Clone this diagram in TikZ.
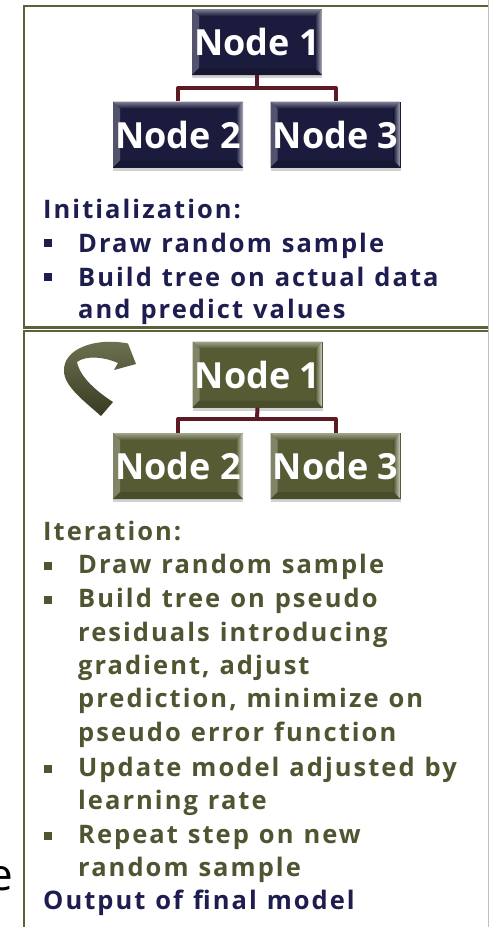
\documentclass[tikz,border=0pt]{standalone}
\usepackage{fontspec}
\setmainfont{Open Sans}
\newfontfamily\bodyfont{Open Sans}[LetterSpace=8, WordSpace=1.15]
\usetikzlibrary{shadows}

\definecolor{navy}{HTML}{1B1B3D}
\definecolor{navytxt}{HTML}{1D1D4F}
\definecolor{olive}{HTML}{575B34}
\definecolor{olivetxt}{HTML}{4F5530}
\definecolor{frame}{HTML}{5C6139}
\definecolor{branch}{HTML}{5C1A24}

\tikzset{
  bevelbox/.style n args={4}{
    inner sep=0pt, minimum width=130pt, minimum height=66pt,
    fill=#1, text=white,
    font=\fontsize{36}{40}\selectfont\bfseries,
    drop shadow={shadow xshift=0pt, shadow yshift=-3pt, opacity=0.35},
    path picture={
      \coordinate (bnw) at (path picture bounding box.north west);
      \coordinate (bne) at (path picture bounding box.north east);
      \coordinate (bsw) at (path picture bounding box.south west);
      \coordinate (bse) at (path picture bounding box.south east);
      % top bevel
      \shade[top color=#2, bottom color=#1]
        (bnw) -- (bne) -- ([shift={(-7pt,-7pt)}]bne) -- ([shift={(7pt,-7pt)}]bnw) -- cycle;
      % left bevel
      \fill[#2!55!#1] (bnw) -- ([shift={(7pt,-7pt)}]bnw) -- ([shift={(7pt,7pt)}]bsw) -- (bsw) -- cycle;
      % right highlight
      \shade[left color=#1, right color=#3]
        (bne) -- (bse) -- ([shift={(-7pt,7pt)}]bse) -- ([shift={(-7pt,-7pt)}]bne) -- cycle;
      % bottom bevel
      \fill[#4] (bsw) -- (bse) -- ([shift={(-7pt,7pt)}]bse) -- ([shift={(7pt,7pt)}]bsw) -- cycle;
    }
  },
  navybox/.style={bevelbox={navy}{navy!55!white}{navy!35!white}{navy!85!black}},
  olivebox/.style={bevelbox={olive}{olive!55!white}{olive!25!white}{olive!85!black}},
  branchline/.style={draw=branch, line width=4pt},
  bodytxt/.style={anchor=base west, inner sep=0pt,
    font=\bodyfont\fontsize{25.5}{30}\selectfont\bfseries},
  framebox/.style={draw=frame, line width=2.5pt},
}

\begin{document}
\begin{tikzpicture}[x=1pt, y=-1pt]
\useasboundingbox (0,0) rectangle (489,927);
\fill[white] (0,0) rectangle (489,927);

% frames of the two panels
\draw[framebox] (24,6) rectangle (520,327.5);
\draw[framebox] (24,331) rectangle (520,960);
\draw[draw=black!25, line width=1pt] (488.5,0) -- (488.5,927);

% ---------- initialization panel ----------
\node[navybox] (i1) at (257,42) {Node 1};
\node[navybox] (i2) at (178,134.5) {Node 2};
\node[navybox] (i3) at (335.5,134.5) {Node 3};
\coordinate (ij) at (257,88);
\draw[branchline] (i1.south) -- (ij);
\draw[branchline, line join=round] (i2.north) |- (ij) -| (i3.north);

\node[bodytxt, text=navytxt] (ih) at (43,218) {Initialization:};
\fill[navytxt] (44,239) rectangle (52,247);
\node[bodytxt, text=navytxt] (ia) at (78,252) {Draw random sample};
\fill[navytxt] (44,273) rectangle (52,281);
\node[bodytxt, text=navytxt] (ib) at (78,286) {Build tree on actual data};
\node[bodytxt, text=navytxt] (ic) at (78,318) {and predict values};

% ---------- iteration panel ----------
\node[olivebox] (r1) at (257.5,374.5) {Node 1};
\node[olivebox] (r2) at (178,466) {Node 2};
\node[olivebox] (r3) at (335.5,466) {Node 3};
\coordinate (rj) at (257,419);
\draw[branchline] (r1.south) -- (rj);
\draw[branchline, line join=round] (r2.north) |- (rj) -| (r3.north);

% curved repeat arrow
\shade[top color=olive!85!white, bottom color=olive!65!black]
  (101,416) .. controls (84,401) and (64,386) .. (64,371)
  .. controls (63,349) and (95,337) .. (128,343.5)
  -- (136,364) -- (114,370) -- (118,363)
  .. controls (105,357) and (86,355) .. (77,362)
  .. controls (80,377) and (96,391) .. (113,402) -- cycle;

\node[bodytxt, text=olivetxt] (rh) at (43,540) {Iteration:};
\fill[olivetxt] (44,562) rectangle (52,570);
\node[bodytxt, text=olivetxt] (ra) at (78,573) {Draw random sample};
\fill[olivetxt] (44,596) rectangle (52,604);
\node[bodytxt, text=olivetxt] (rb) at (78,607) {Build tree on pseudo};
\node[bodytxt, text=olivetxt] (rc) at (78,641) {residuals introducing};
\node[bodytxt, text=olivetxt] (rd) at (78,674) {gradient, adjust};
\node[bodytxt, text=olivetxt] (re) at (78,707) {prediction, minimize on};
\node[bodytxt, text=olivetxt] (rf) at (78,741) {pseudo error function};
\fill[olivetxt] (44,765) rectangle (52,773);
\node[bodytxt, text=olivetxt] (rg) at (78,776) {Update model adjusted by};
\node[bodytxt, text=olivetxt] (rh2) at (78,809) {learning rate};
\fill[olivetxt] (44,832) rectangle (52,840);
\node[bodytxt, text=olivetxt] (ri) at (78,843) {Repeat step on new};
\node[bodytxt, text=olivetxt] (rj2) at (78,876) {random sample};
\node[bodytxt, text=navytxt] (ro) at (43,909) {Output of final model};

% clipped letter at the left edge
\node[anchor=base east, inner sep=0pt, font=\fontsize{44}{48}\selectfont] (edge) at (13,890) {e};
\end{tikzpicture}
\end{document}
